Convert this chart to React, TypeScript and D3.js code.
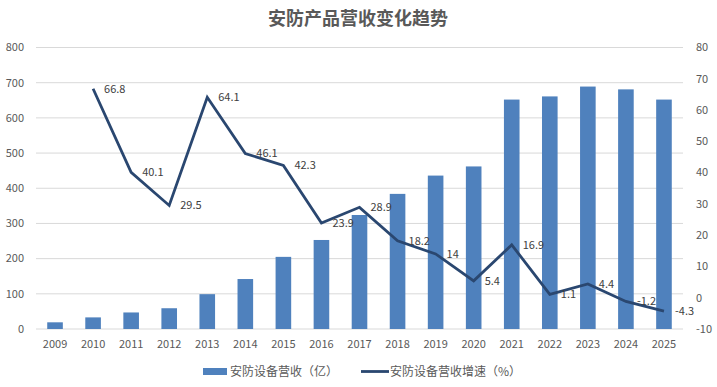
import React from "react";
import * as d3 from "d3";

const years = ["2009","2010","2011","2012","2013","2014","2015","2016","2017","2018","2019","2020","2021","2022","2023","2024","2025"];
const revenue = [19, 33, 47, 59, 99, 142, 205, 253, 324, 384, 436, 462, 652, 661, 689, 681, 652];
const growthYears = ["2010","2011","2012","2013","2014","2015","2016","2017","2018","2019","2020","2021","2022","2023","2024","2025"];
const growth = [66.8, 40.1, 29.5, 64.1, 46.1, 42.3, 23.9, 28.9, 18.2, 14, 5.4, 16.9, 1.1, 4.4, -1.2, -4.3];
const leftTicks = [0, 100, 200, 300, 400, 500, 600, 700, 800];
const rightTicks = [-10, 0, 10, 20, 30, 40, 50, 60, 70, 80];
const title = "安防产品营收变化趋势";
const legendBar = "安防设备营收（亿）";
const legendLine = "安防设备营收增速（%）";

const W = 717, H = 387;
const FONT = "'Noto Sans CJK SC', 'Microsoft YaHei', sans-serif";

export default function App() {
  const x = d3.scaleBand<string>().domain(years).range([36, 683]).paddingInner(0.59).paddingOuter(0.295);
  const yL = d3.scaleLinear().domain([0, 800]).range([329, 47.5]);
  const yR = d3.scaleLinear().domain([-10, 80]).range([329, 47.5]);
  const cx = (yr: string) => (x(yr) as number) + x.bandwidth() / 2;
  const pts = growthYears.map((yr, i) => [cx(yr), yR(growth[i])] as [number, number]);
  const line = d3.line<[number, number]>()(pts) as string;

  return (
    <svg width={W} height={H} style={{ position: "absolute", left: 0, top: 0, background: "#fff" }} fontFamily={FONT}>
      <rect x={0} y={0} width={W} height={H} fill="#fff" />
      <text x={358} y={25} textAnchor="middle" fontSize={18} fontWeight="bold" fill="#595959">{title}</text>
      {leftTicks.map((t) => (
        <g key={"g" + t}>
          <line x1={36} x2={683} y1={yL(t)} y2={yL(t)} stroke="#d9d9d9" strokeWidth={1} />
          <text x={24} y={yL(t)} dy="0.35em" textAnchor="end" fontSize={11} fill="#595959">{t}</text>
        </g>
      ))}
      {rightTicks.map((t) => (
        <text key={"r" + t} x={696} y={yR(t)} dy="0.35em" textAnchor="start" fontSize={11} fill="#595959">{t}</text>
      ))}
      {years.map((yr, i) => (
        <rect key={yr} x={x(yr)} y={yL(revenue[i])} width={x.bandwidth()} height={yL(0) - yL(revenue[i])} fill="#4f81bd" />
      ))}
      {years.map((yr) => (
        <text key={"x" + yr} x={cx(yr)} y={344} dy="0.35em" textAnchor="middle" fontSize={11} fill="#595959">{yr}</text>
      ))}
      <path d={line} fill="none" stroke="#2a4770" strokeWidth={2.8} strokeLinejoin="miter" />
      {pts.map((p, i) => (
        <text key={"l" + i} x={p[0] + 11} y={p[1]} dy="0.35em" fontSize={11} fill="#404040">{growth[i]}</text>
      ))}
      <rect x={203} y={368} width={24} height={7} fill="#4f81bd" />
      <text x={230} y={371.5} dy="0.35em" fontSize={12} fill="#595959">{legendBar}</text>
      <line x1={361} x2={389} y1={371.5} y2={371.5} stroke="#2a4770" strokeWidth={2.8} />
      <text x={390} y={371.5} dy="0.35em" fontSize={12} fill="#595959">{legendLine}</text>
    </svg>
  );
}
